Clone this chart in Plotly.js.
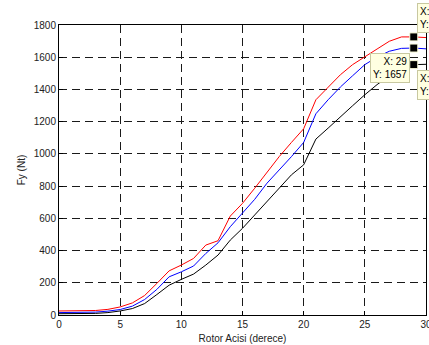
<!DOCTYPE html>
<html>
<head>
<meta charset="utf-8">
<script src="https://cdn.plot.ly/plotly-3.0.1.min.js"></script>
<style>html,body{margin:0;padding:0;background:#fff;}#chart{width:429px;height:345px;}</style>
</head>
<body>
<div id="chart"></div>
<script>
const angles = [0,1,2,3,4,5,6,7,8,9,10,11,12,13,14,15,16,17,18,19,20,21,22,23,24,25,26,27,28,29,30];
const redSeries   = [25,25,25,28,35,50,75,121,196,274,310,351,434,461,614,693,787,885,983,1071,1156,1336,1415,1491,1554,1605,1651,1699,1726,1726,1722];
const blueSeries  = [15,15,15,18,24,34,55,96,159,237,268,304,382,448,548,631,718,818,900,983,1071,1249,1336,1415,1485,1554,1601,1637,1655,1657,1652];
const blackSeries = [8,8,8,10,15,25,40,71,127,185,221,254,310,372,465,538,621,703,787,870,932,1092,1160,1232,1299,1367,1430,1485,1528,1554,1556];
const tipX = 29;
const xTicks = [0,5,10,15,20,25,30];
const yTicks = [0,200,400,600,800,1000,1200,1400,1600,1800];

const tipIdx = angles.indexOf(tipX);
const tipVals = [redSeries[tipIdx], blueSeries[tipIdx], blackSeries[tipIdx]];

const traces = [
  {x: angles, y: redSeries, mode: 'lines', line: {color: '#ff0000', width: 1}},
  {x: angles, y: blueSeries, mode: 'lines', line: {color: '#0000ff', width: 1}},
  {x: angles, y: blackSeries, mode: 'lines', line: {color: '#000000', width: 1}},
  {x: [tipX, tipX, tipX], y: tipVals, mode: 'markers',
   marker: {symbol: 'square', size: 8, color: '#000', line: {color: '#ffffdd', width: 1}}}
];

const tipStyle = {showarrow: false, xref: 'x', yref: 'y', bgcolor: '#ffffe1', bordercolor: '#c8c8a0',
  borderwidth: 1, borderpad: 2, font: {family: 'Liberation Sans, Arial, sans-serif', size: 10, color: '#000'}};

const annotations = [
  Object.assign({}, tipStyle, {x: tipX, y: tipVals[0], text: 'X: ' + tipX + '<br>Y: ' + tipVals[0], align: 'left', xanchor: 'left', yanchor: 'bottom', xshift: 3, yshift: 4}),
  Object.assign({}, tipStyle, {x: tipX, y: tipVals[1], text: 'X: ' + tipX + '<br>Y: ' + tipVals[1], align: 'right', xanchor: 'right', yanchor: 'top', xshift: -4, yshift: -5}),
  Object.assign({}, tipStyle, {x: tipX, y: tipVals[2], text: 'X: ' + tipX + '<br>Y: ' + tipVals[2], align: 'left', xanchor: 'left', yanchor: 'top', xshift: 3, yshift: -5})
];

const axisCommon = {
  showline: true, mirror: true, linecolor: '#000', linewidth: 1,
  ticks: 'inside', ticklen: 4, tickcolor: '#000',
  showgrid: true, gridcolor: '#1a1a1a', gridwidth: 1, griddash: '8px,5px',
  zeroline: false, ticklabeloverflow: 'allow',
  tickfont: {family: 'Liberation Sans, Arial, sans-serif', size: 10, color: '#222'}
};

const layout = {
  width: 429, height: 345,
  margin: {l: 59, r: 3, t: 25, b: 30},
  paper_bgcolor: '#fff', plot_bgcolor: '#fff',
  showlegend: false,
  xaxis: Object.assign({}, axisCommon, {range: [0, 30], tickvals: xTicks,
    title: {text: 'Rotor Acisi (derece)', standoff: 5, font: {family: 'Liberation Sans, Arial, sans-serif', size: 10, color: '#222'}}}),
  yaxis: Object.assign({}, axisCommon, {range: [0, 1800], tickvals: yTicks,
    title: {text: 'Fy (Nt)', standoff: 6, font: {family: 'Liberation Sans, Arial, sans-serif', size: 10, color: '#222'}}}),
  annotations: annotations
};

Plotly.newPlot('chart', traces, layout, {staticPlot: true, displayModeBar: false});
</script>
</body>
</html>
